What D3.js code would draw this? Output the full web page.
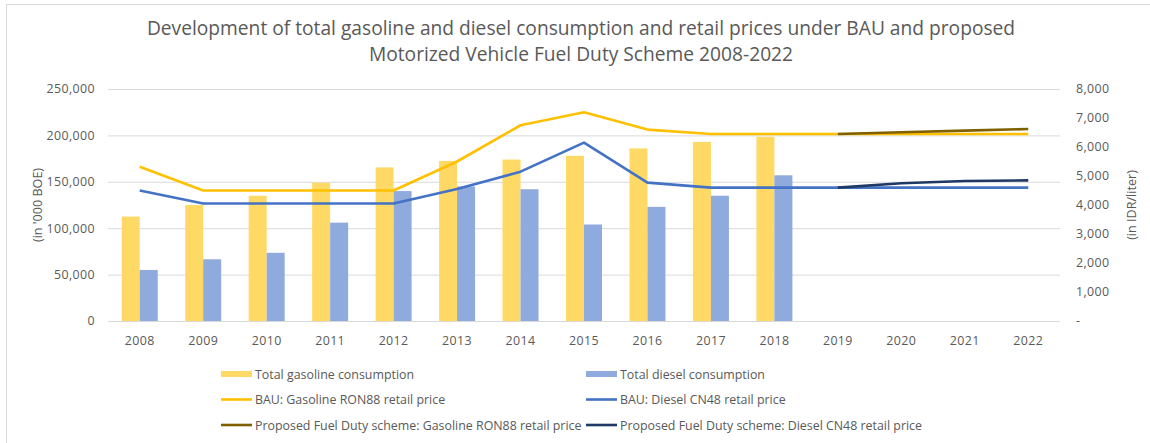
<!DOCTYPE html>
<html><head><meta charset="utf-8">
<script src="https://cdn.jsdelivr.net/npm/d3@7"></script>
<style>body{margin:0;background:#fff}svg{display:block;font-family:"Open Sans",Lato,sans-serif}</style>
</head><body><svg id="c" width="1150" height="443"></svg>
<script>
const years = ["2008","2009","2010","2011","2012","2013","2014","2015","2016","2017","2018","2019","2020","2021","2022"];
const gasolineConsumption = [112500,125000,135000,149000,165500,172500,174000,178000,186000,193000,198500,null,null,null,null];
const dieselConsumption = [55000,66500,73500,106000,140000,145000,142000,104000,123000,135000,157000,null,null,null,null];
const bauGasolinePrice = [5320,4500,4500,4500,4500,5500,6750,7200,6600,6450,6450,6450,6450,6450,6450];
const bauDieselPrice = [4500,4050,4050,4050,4050,4550,5150,6150,4770,4600,4600,4600,4600,4600,4600];
const fdGasolinePrice = [null,null,null,null,null,null,null,null,null,null,null,6450,6510,6565,6620];
const fdDieselPrice = [null,null,null,null,null,null,null,null,null,null,null,4600,4750,4830,4850];
const leftTicks = [0,50000,100000,150000,200000,250000];
const rightTicks = [0,1000,2000,3000,4000,5000,6000,7000,8000];
const titleLines = ["Development of total gasoline and diesel consumption and retail prices under BAU and proposed","Motorized Vehicle Fuel Duty Scheme 2008-2022"];

const svg = d3.select("#c");
const txt = "#595959", grid = "#d9d9d9";
const C = {gb:"#FFD966", db:"#8FAADC", gl:"#FFC000", dl:"#4472C4", gp:"#7F6000", dp:"#203864"};
const L = 108, R = 1060, T = 89, B = 321;

svg.append("rect").attr("x",6.5).attr("y",4.5).attr("width",1170).attr("height",460)
  .attr("fill","#fff").attr("stroke","#d9d9d9");

const x = d3.scaleBand().domain(years).range([L,R]).paddingInner(0.433).paddingOuter(0.2165);
const x1 = d3.scaleBand().domain(["g","d"]).range([0,x.bandwidth()]);
const yL = d3.scaleLinear().domain([0,250000]).range([B,T]);
const yR = d3.scaleLinear().domain([0,8000]).range([B,T]);

// grid
svg.append("g").selectAll("line").data(leftTicks).join("line")
  .attr("x1",L).attr("x2",R).attr("y1",d=>yL(d)+0.5).attr("y2",d=>yL(d)+0.5)
  .attr("stroke",grid).attr("stroke-width",1);

const tickFont = g => g.selectAll("text").attr("fill",txt).style("font-size","12.4px")
  .style("letter-spacing","0.4px").style("font-family","'Open Sans'");
// left axis
const ax = svg.append("g").attr("transform",`translate(${L},0)`)
  .call(d3.axisLeft(yL).tickValues(leftTicks).tickSize(0).tickPadding(13).tickFormat(d3.format(",")));
ax.select(".domain").remove(); tickFont(ax);
// right axis
const ar = svg.append("g").attr("transform",`translate(${R},0)`)
  .call(d3.axisRight(yR).tickValues(rightTicks).tickSize(0).tickPadding(16).tickFormat(d=>d===0?"-":d3.format(",")(d)));
ar.select(".domain").remove(); tickFont(ar);
// x axis
const axx = svg.append("g").attr("transform",`translate(0,${B})`)
  .call(d3.axisBottom(x).tickSize(0).tickPadding(15));
axx.select(".domain").remove(); tickFont(axx);

// bars
const bars = svg.append("g");
bars.selectAll("rect.g").data(years.map((y,i)=>[y,gasolineConsumption[i]]).filter(d=>d[1]!=null)).join("rect")
  .attr("x",d=>x(d[0])+x1("g")).attr("width",x1.bandwidth()).attr("y",d=>yL(d[1])).attr("height",d=>yL(0)-yL(d[1])).attr("fill",C.gb);
bars.selectAll("rect.d").data(years.map((y,i)=>[y,dieselConsumption[i]]).filter(d=>d[1]!=null)).join("rect")
  .attr("x",d=>x(d[0])+x1("d")).attr("width",x1.bandwidth()).attr("y",d=>yL(d[1])).attr("height",d=>yL(0)-yL(d[1])).attr("fill",C.db);

// lines
const line = d3.line().defined(d=>d[1]!=null).x(d=>x(d[0])+x.bandwidth()/2).y(d=>yR(d[1]));
function drawLine(arr,color){
  svg.append("path").datum(years.map((y,i)=>[y,arr[i]])).attr("d",line)
    .attr("fill","none").attr("stroke",color).attr("stroke-width",2.6).attr("stroke-linejoin","round");
}
drawLine(bauGasolinePrice,C.gl);
drawLine(bauDieselPrice,C.dl);
drawLine(fdGasolinePrice,C.gp);
drawLine(fdDieselPrice,C.dp);

// axis titles
svg.append("text").attr("transform","translate(42,205) rotate(-90)").attr("text-anchor","middle")
  .attr("fill",txt).style("font-size","12.6px").text("(in '000 BOE)");
svg.append("text").attr("transform","translate(1136,205) rotate(-90)").attr("text-anchor","middle")
  .attr("fill",txt).style("font-size","12.6px").text("(in IDR/liter)");

// title
svg.append("g").selectAll("text").data(titleLines).join("text")
  .attr("x",581).attr("y",(d,i)=>35+i*26).attr("text-anchor","middle").attr("fill",txt)
  .style("font-size","19.2px").text(d=>d);

// legend
const legend = [
  {label:"Total gasoline consumption",color:C.gb,type:"bar",col:0,row:0},
  {label:"Total diesel consumption",color:C.db,type:"bar",col:1,row:0},
  {label:"BAU: Gasoline RON88 retail price",color:C.gl,type:"line",col:0,row:1},
  {label:"BAU: Diesel CN48 retail price",color:C.dl,type:"line",col:1,row:1},
  {label:"Proposed Fuel Duty scheme: Gasoline RON88 retail price",color:C.gp,type:"line",col:0,row:2},
  {label:"Proposed Fuel Duty scheme: Diesel CN48 retail price",color:C.dp,type:"line",col:1,row:2}
];
const lg = svg.append("g").selectAll("g").data(legend).join("g")
  .attr("transform",d=>`translate(${d.col?586:221},${374+d.row*25.5})`);
lg.append("rect").attr("x",0).attr("width",31).attr("y",d=>d.type==="bar"?-3:-1.3)
  .attr("height",d=>d.type==="bar"?6:2.6).attr("fill",d=>d.color);
lg.append("text").attr("x",34).attr("y",4.5).attr("fill",txt).style("font-size","12.4px").text(d=>d.label);
</script></body></html>
